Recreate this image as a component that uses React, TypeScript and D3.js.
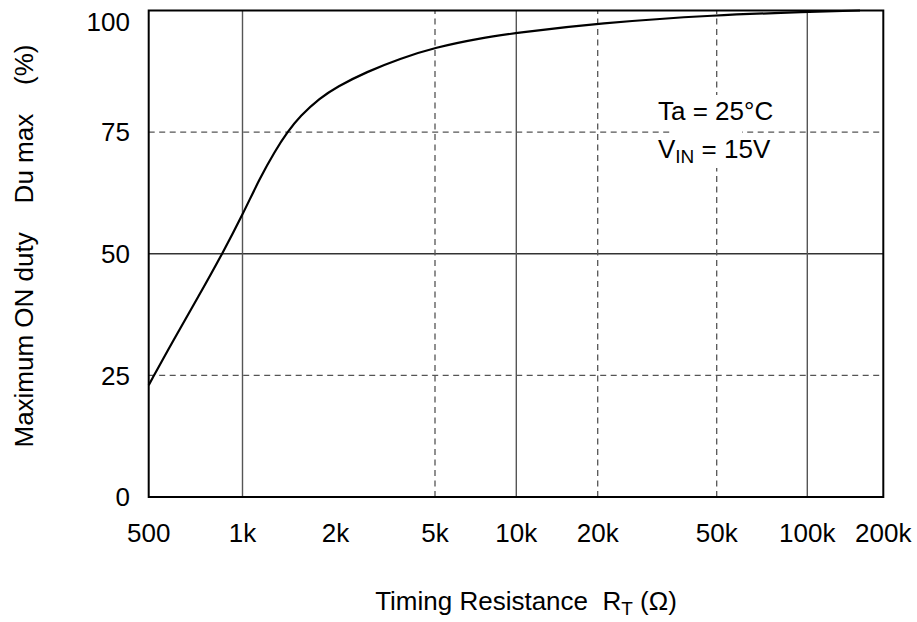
import React from "react";
import * as d3 from "d3";

// ---- data ----
const xTicks = [500, 1000, 2000, 5000, 10000, 20000, 50000, 100000, 200000];
const xTickLabels = ["500", "1k", "2k", "5k", "10k", "20k", "50k", "100k", "200k"];
const xGridSolid = [1000, 10000, 100000];
const xGridDashed = [5000, 20000, 50000];
const yTicks = [0, 25, 50, 75, 100];
const yGridSolid = [50];
const yGridDashed = [25, 75];

const rValues = [500, 598, 721, 868, 1000, 1139, 1274, 1393, 1535, 1782, 2022, 2666, 3621, 5000, 7338, 10000, 20000, 50000, 100000, 161700];
const dutyValues = [23.0, 32.1, 41.1, 50.4, 58.0, 65.6, 71.1, 74.9, 78.3, 82.0, 84.3, 87.4, 90.1, 92.4, 94.3, 95.4, 97.4, 99.1, 99.7, 100];

// ---- layout ----
const W = 917;
const H = 622;
const xBreaks = [148.7, 242.5, 335.5, 435, 516.3, 597.7, 716.7, 807.3, 883.3];
const plotTop = 10.5;
const plotBottom = 497;
const FONT = "'Liberation Sans', Arial, Helvetica, sans-serif";
const FS = 26;

export default function App() {
  const x = d3.scaleLog().domain(xTicks).range(xBreaks);
  const y = d3.scaleLinear().domain([0, 100]).range([plotBottom, plotTop]);

  const pts: [number, number][] = rValues.map((r, i) => [x(r), y(dutyValues[i])]);
  const line = d3.line().curve(d3.curveBasis)(pts) || "";

  const x0 = x(xTicks[0]);
  const x1 = x(xTicks[xTicks.length - 1]);
  const y0 = y(0);
  const y1 = y(100);

  const annX = 658;
  const annY1 = 120;
  const annY2 = 158;

  return (
    <>
      <style>{`body{margin:0}`}</style>
      <svg width={W} height={H} style={{ display: "block", background: "#fff" }} fontFamily={FONT}>
        {/* grid */}
        {yGridDashed.map((v) => (
          <line key={"yd" + v} x1={x0} x2={x1} y1={y(v)} y2={y(v)} stroke="#555" strokeWidth={1.3} strokeDasharray="6,4.5" />
        ))}
        {yGridSolid.map((v) => (
          <line key={"ys" + v} x1={x0} x2={x1} y1={y(v)} y2={y(v)} stroke="#333" strokeWidth={1.3} />
        ))}
        {xGridDashed.map((v) => (
          <line key={"xd" + v} x1={x(v)} x2={x(v)} y1={y0} y2={y1} stroke="#555" strokeWidth={1.3} strokeDasharray="6,4.5" />
        ))}
        {xGridSolid.map((v) => (
          <line key={"xs" + v} x1={x(v)} x2={x(v)} y1={y0} y2={y1} stroke="#555" strokeWidth={1.4} />
        ))}

        {/* annotation background */}
        <rect x={annX + 15} y={annY1 - 25} width={69} height={73} fill="#fff" />

        {/* curve */}
        <path d={line} fill="none" stroke="#000" strokeWidth={2.2} />

        {/* frame */}
        <rect x={x0} y={y1} width={x1 - x0} height={y0 - y1} fill="none" stroke="#000" strokeWidth={2} />

        {/* x tick labels */}
        {xTicks.map((v, i) => (
          <text key={"xl" + v} x={x(v)} y={542} textAnchor="middle" fontSize={FS} fill="#000">
            {xTickLabels[i]}
          </text>
        ))}
        {/* y tick labels */}
        {yTicks.map((v) => (
          <text key={"yl" + v} x={130} y={Math.max(y(v), y1 + 11.5)} dy="0.36em" textAnchor="end" fontSize={FS} fill="#000">
            {v}
          </text>
        ))}

        {/* annotation */}
        <text x={annX} y={annY1} fontSize={FS} fill="#000">Ta = 25°C</text>
        <text x={annX} y={annY2} fontSize={FS} fill="#000">
          V<tspan fontSize={19} dy={5}>IN</tspan>
          <tspan dy={-5}> = 15V</tspan>
        </text>

        {/* axis titles */}
        <text x={526} y={610} textAnchor="middle" fontSize={FS} fill="#000" style={{ whiteSpace: "pre" }}>
          {"Timing Resistance  R"}
          <tspan fontSize={19} dy={5}>T</tspan>
          <tspan dy={-5}>{" (Ω)"}</tspan>
        </text>
        <text
          transform={`translate(33, 246) rotate(-90)`}
          textAnchor="middle"
          fontSize={FS}
          fill="#000"
          style={{ whiteSpace: "pre" }}
        >
          {"Maximum ON duty    Du max    (%)"}
        </text>
      </svg>
    </>
  );
}
